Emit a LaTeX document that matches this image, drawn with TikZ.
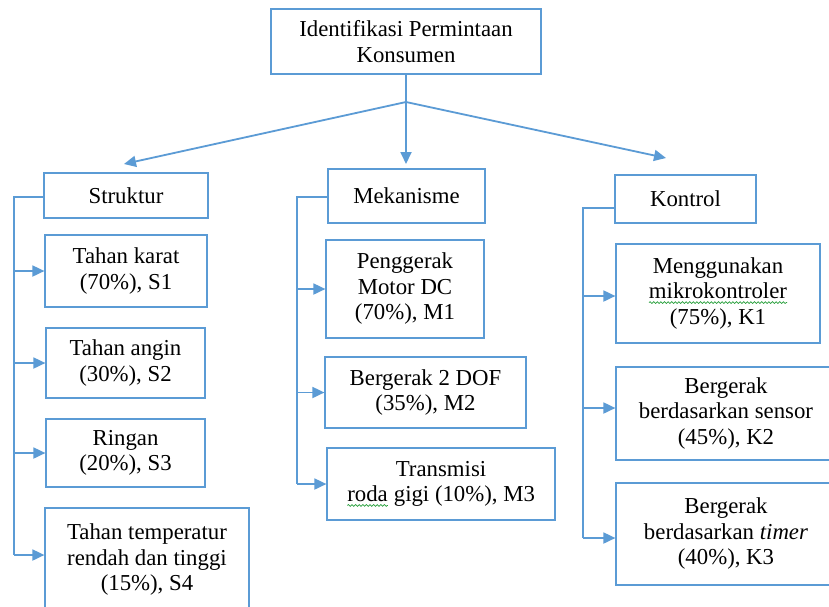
\documentclass[tikz,border=0pt]{standalone}
\usepackage{fontspec}
\setmainfont{Liberation Serif}
\usetikzlibrary{arrows.meta,decorations.pathmorphing}
\definecolor{boxblue}{HTML}{5B9BD5}
\definecolor{linkblue}{HTML}{5B9BD5}
\definecolor{spellgreen}{RGB}{40,160,60}
\newcommand\gwave[1]{\tikz[baseline=(w.base),x=1cm,y=1cm]{\node[draw=none,fill=none,minimum width=0pt,minimum height=0pt,inner sep=0pt,outer sep=0pt,align=left] (w) {#1};
  \draw[spellgreen, line width=0.35pt, decorate, decoration={snake, amplitude=0.45pt, segment length=1.8pt}]
    ([yshift=-1.8pt]w.base west) -- ([yshift=-1.8pt]w.base east);}}
\tikzset{
  box/.style={draw=boxblue, line width=0.6pt, fill=white, align=center, inner sep=0pt,
    font=\fontsize{11.4}{12.75}\selectfont, text=black},
  link/.style={draw=linkblue, line width=0.9pt},
  arr/.style={link, -{Triangle[length=6pt,width=5.5pt]}}
}
\begin{document}
\begin{tikzpicture}[x=0.5pt,y=-0.5pt]
\clip (0,0) rectangle (829,606);
\fill[white] (0,0) rectangle (829,606);
% top
\node[box, minimum width=135pt, minimum height=32.5pt] (T) at (406,41.5) {Identifikasi Permintaan\\Konsumen};
% columns headers
\node[box, minimum width=82pt, minimum height=22.5pt] (S) at (126,195.5) {Struktur};
\node[box, minimum width=78.5pt, minimum height=27pt] (M) at (406.5,196) {Mekanisme};
\node[box, minimum width=70.5pt, minimum height=24pt] (K) at (685.5,199) {Kontrol};
% Struktur items
\node[box, minimum width=81pt, minimum height=36pt] (S1) at (126,271) {Tahan karat\\(70\%), S1};
\node[box, minimum width=79.5pt, minimum height=35pt] (S2) at (125.5,363) {Tahan angin\\(30\%), S2};
\node[box, minimum width=79.5pt, minimum height=34pt] (S3) at (125.5,453) {Ringan\\(20\%), S3};
\node[box, minimum width=102pt, minimum height=52pt] (S4) at (147,560) {Tahan temperatur\\rendah dan tinggi\\(15\%), S4};
% Mekanisme items
\node[box, minimum width=79pt, minimum height=49pt] (M1) at (405,289) {Penggerak\\Motor DC\\(70\%), M1};
\node[box, minimum width=100.5pt, minimum height=35.5pt] (M2) at (425.5,392.5) {Bergerak 2 DOF\\(35\%), M2};
\node[box, minimum width=114pt, minimum height=36pt] (M3) at (441,484) {Transmisi\\\gwave{roda} gigi (10\%), M3};
% Kontrol items
\node[box, minimum width=102pt, minimum height=49.5pt] (K1) at (718,293.5) {Menggunakan\\\gwave{mikrokontroler}\\(75\%), K1};
\node[box, minimum width=110pt, minimum height=46.5pt] (K2) at (726,413.5) {Bergerak\\berdasarkan sensor\\(45\%), K2};
\node[box, minimum width=110pt, minimum height=51pt] (K3) at (726,534) {Bergerak\\berdasarkan \textit{timer}\\(40\%), K3};
% top connectors
\coordinate (J) at (406,102);
\coordinate (ts) at (124,164);
\coordinate (tm) at (406,164);
\coordinate (tk) at (666,158);
\draw[link] (T.south) -- (J);
\draw[arr] (J) -- (ts);
\draw[arr] (J) -- (tm);
\draw[arr] (J) -- (tk);
% Struktur trunk
\coordinate (st) at (14,197);
\coordinate (sb) at (14,555);
\draw[link] (st -| S.west) -- (st) -- (sb);
\draw[arr] (sb |- S1.west) -- (S1.west);
\draw[arr] (sb |- S2.west) -- (S2.west);
\draw[arr] (sb |- S3.west) -- (S3.west);
\draw[arr] (sb) -- (sb -| S4.west);
% Mekanisme trunk
\coordinate (mt) at (297,197);
\coordinate (mb) at (297,484);
\draw[link] (mt -| M.west) -- (mt) -- (mb);
\draw[arr] (mb |- M1.west) -- (M1.west);
\draw[arr] (mb |- M2.west) -- (M2.west);
\draw[arr] (mb) -- (mb -| M3.west);
% Kontrol trunk
\coordinate (kt) at (583,208);
\coordinate (k1) at (583,296);
\coordinate (k2) at (583,408);
\coordinate (kb) at (583,538);
\draw[link] (kt -| K.west) -- (kt) -- (kb);
\draw[arr] (k1) -- (k1 -| K1.west);
\draw[arr] (k2) -- (k2 -| K2.west);
\draw[arr] (kb) -- (kb -| K3.west);
\end{tikzpicture}
\end{document}
